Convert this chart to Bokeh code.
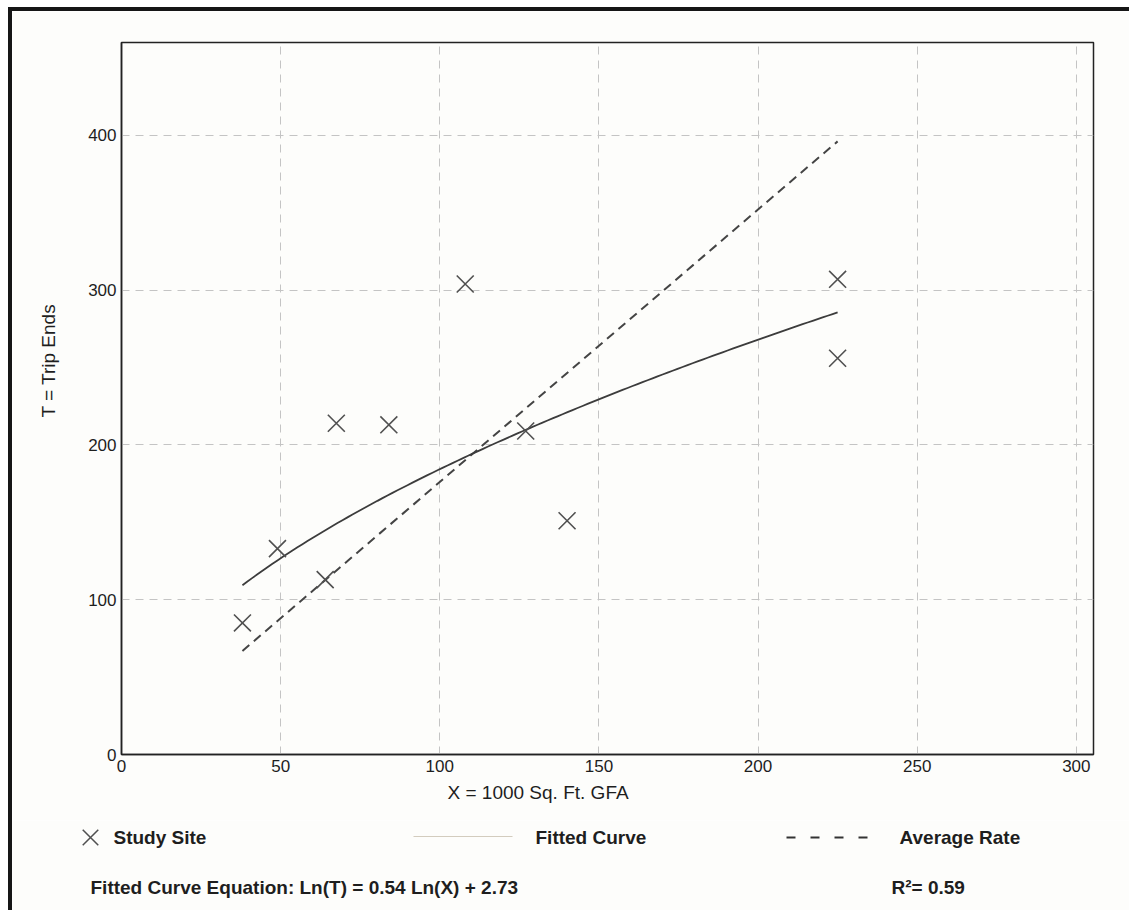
import numpy as np
from bokeh.plotting import figure
from bokeh.layouts import column
from bokeh.models import Range1d, FixedTicker, Label, Title
from bokeh.embed import file_html
from bokeh.resources import INLINE

# ---- data ----
site_x = [38, 49, 67.5, 84, 64, 108, 127, 140, 225, 225]
site_t = [85, 133, 214, 213, 113, 304, 209, 151, 307, 256]
x_ticks = [0, 50, 100, 150, 200, 250, 300]
y_ticks = [0, 100, 200, 300, 400]
fit_slope = 0.54
fit_intercept = 2.73
r_squared = 0.59
legend_labels = ["Study Site", "Fitted Curve", "Average Rate"]

FONT = "Liberation Sans"
TXT = "#1e1e1e"
BG = "#fdfdfb"

# fitted curve from the stated equation: Ln(T) = 0.54 Ln(X) + 2.73
fx = np.linspace(min(site_x), max(site_x), 120)
ft = np.exp(fit_intercept) * fx ** fit_slope
# average rate = sum(T) / sum(X)
avg_rate = sum(site_t) / sum(site_x)
ax_ = [min(site_x), max(site_x)]
at_ = [avg_rate * v for v in ax_]

p = figure(width=1117, height=809, x_range=Range1d(0, 305.4), y_range=Range1d(0, 460),
           output_backend="svg", toolbar_location=None,
           min_border_left=109, min_border_right=36, min_border_top=31, min_border_bottom=66)
p.background_fill_color = BG
p.border_fill_color = BG
p.outline_line_color = "#222222"
p.outline_line_width = 1.5

for ax, ticks in ((p.xaxis[0], x_ticks), (p.yaxis[0], y_ticks)):
    ax.ticker = FixedTicker(ticks=ticks)
    ax.major_tick_line_color = None
    ax.minor_tick_line_color = None
    ax.major_tick_in = 0
    ax.major_tick_out = 0
    ax.axis_line_color = "#222222"
    ax.axis_line_width = 1.5
    ax.major_label_text_font = FONT
    ax.major_label_text_font_size = "17px"
    ax.major_label_text_color = TXT
    ax.major_label_standoff = 5

p.xgrid.ticker = FixedTicker(ticks=x_ticks)
p.ygrid.ticker = FixedTicker(ticks=y_ticks)
for g in (p.xgrid[0], p.ygrid[0]):
    g.grid_line_color = "#c4c4c4"
    g.grid_line_dash = "8 6"
    g.grid_line_width = 1

# data marks
p.line(ax_, at_, line_color="#444444", line_width=2, line_dash="9 6")
p.line(fx, ft, line_color="#3c3c3c", line_width=1.8)
p.scatter(site_x, site_t, marker="x", size=24, line_color="#505050", line_width=1.6)

# axis titles (side-panel titles, so they are not clipped)
p.add_layout(Title(text="X = 1000 Sq. Ft. GFA", align="left", offset=326, vertical_align="top",
                   standoff=14, text_font=FONT, text_font_size="19px", text_font_style="normal",
                   text_color=TXT), "below")
p.add_layout(Title(text="T = Trip Ends", align="left", offset=337, vertical_align="top",
                   standoff=50, text_font=FONT, text_font_size="19px", text_font_style="normal",
                   text_color=TXT), "left")

# ---- lower strip: legend and equation (coordinates here are layout pixels) ----
p2 = figure(width=1117, height=90, x_range=Range1d(0, 1117), y_range=Range1d(0, 90),
            output_backend="svg", toolbar_location=None, x_axis_type=None, y_axis_type=None,
            min_border=0, min_border_left=0, min_border_right=0, min_border_top=0, min_border_bottom=0)
p2.background_fill_color = BG
p2.border_fill_color = BG
p2.outline_line_color = None
p2.grid.visible = False
for fig in (p, p2):
    if "frame_align" in fig.properties():
        fig.frame_align = False

LEG_Y = 73
# legend keys
p2.scatter([78], [LEG_Y], marker="x", size=22, line_color="#505050", line_width=1.5)
p2.line([401, 500], [LEG_Y + 1, LEG_Y + 1], line_color="#d3ccbe", line_width=1.2)
p2.line([774, 856], [LEG_Y, LEG_Y], line_color="#333333", line_width=1.8, line_dash="9 15")

for lx, txt in zip([101, 523, 887], legend_labels):
    p2.add_layout(Label(x=lx, y=LEG_Y, text=txt, text_align="left", text_baseline="middle",
                        text_font=FONT, text_font_size="19px", text_font_style="bold", text_color=TXT))

p2.add_layout(Label(x=78, y=23, text="Fitted Curve Equation: Ln(T) = %.2f Ln(X) + %.2f" % (fit_slope, fit_intercept),
                    text_align="left", text_baseline="middle", text_font=FONT, text_font_size="19px",
                    text_font_style="bold", text_color=TXT))
p2.add_layout(Label(x=879, y=23, text="R\u00b2= %.2f" % r_squared,
                    text_align="left", text_baseline="middle", text_font=FONT, text_font_size="19px",
                    text_font_style="bold", text_color=TXT))

layout = column(p, p2, spacing=0,
                styles={"border-top": "4px solid #161616", "border-left": "4px solid #161616",
                        "margin-left": "8px", "margin-top": "7px"})

open("out.html", "w").write(file_html(layout, INLINE))
